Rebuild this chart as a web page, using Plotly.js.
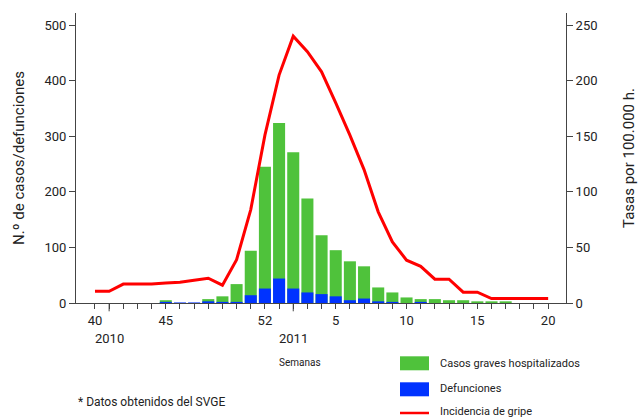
<!DOCTYPE html>
<html>
<head>
<meta charset="utf-8">
<script src="https://cdn.plot.ly/plotly-3.0.1.min.js"></script>
<style>html,body{margin:0;padding:0;background:#fff;}#chart{width:644px;height:419px;}</style>
</head>
<body>
<div id="chart"></div>
<script>
// Week numbers (2010 week 40 through 2011 week 20)
var weeks = [40,41,42,43,44,45,46,47,48,49,50,51,52,1,2,3,4,5,6,7,8,9,10,11,12,13,14,15,16,17,18,19,20];
var labeledWeeks = [40,45,52,5,10,15,20];
// Casos graves hospitalizados (left axis)
var casosGraves = [0,0,0,0,0,5,0,0,7,12,34,94,245,324,271,188,122,95,75,66,28,19,10,7,7,5,5,3,3,3,0,0,0];
// Defunciones (left axis)
var defunciones = [0,0,0,0,0,2,1,1,3,2,2,14,26,44,26,19,16,12,5,8,3,2,0,2,0,0,0,0,0,0,0,0,0];
// Incidencia de gripe, tasas por 100.000 h. (right axis)
var incidencia = [10.5,10.5,17,17,17,18,18.7,20.5,22.3,16,39,84,151,205,240,226,208,180,151,120,82,55,38.5,33,21.4,21.4,9.7,9.7,4,4,4,4,4];

var idx = weeks.map(function(w,i){return i;});
var tickText = weeks.map(function(w){return labeledWeeks.indexOf(w) >= 0 ? String(w) : '';});

var FONT = 'Roboto, Liberation Sans, sans-serif';
var GREEN = '#4fc23b', BLUE = '#0033ff', RED = '#ff0000', AX = '#444444';

var traces = [
  {type:'bar', name:'Casos graves hospitalizados', x: idx, y: casosGraves, marker:{color:GREEN}, width:0.85, showlegend:false, hoverinfo:'y'},
  {type:'bar', name:'Defunciones', x: idx, y: defunciones, marker:{color:BLUE}, width:0.85, showlegend:false, hoverinfo:'y'},
  {type:'scatter', mode:'lines', name:'Incidencia de gripe', x: idx, y: incidencia, yaxis:'y2', line:{color:RED, width:3}, showlegend:false, hoverinfo:'y'}
];

function px2x(p){return (p-76)/490;}
function py2y(p){return (302.7-p)/290;}

function ann(text, xref, x, y, size, xanchor){
  return {text:text, xref:xref, yref:'paper', x:x, y:y, xanchor:xanchor||'center', yanchor:'middle',
          showarrow:false, font:{size:size, family:FONT, color:'#222'}};
}

var layout = {
  width:644, height:419,
  margin:{l:76, r:78, t:13, b:116},
  paper_bgcolor:'#fff', plot_bgcolor:'#fff',
  barmode:'overlay',
  font:{family:FONT, size:13, color:'#222'},
  xaxis:{
    range:[-1.34, 33.26], tickmode:'array', tickvals: idx, ticktext: tickText,
    ticks:'outside', ticklen:5, tickcolor:AX, showline:true, linecolor:AX, linewidth:1,
    showgrid:false, zeroline:false, tickfont:{size:13, family:FONT}, fixedrange:true
  },
  yaxis:{
    range:[0, 521.7], tickvals:[0,100,200,300,400,500], ticks:'outside', ticklen:6, tickcolor:AX,
    showline:true, linecolor:AX, linewidth:1, showgrid:false, zeroline:false,
    tickfont:{size:13, family:FONT},
    title:{text:'N.º de casos/defunciones', font:{size:15, family:FONT}, standoff:16}
  },
  yaxis2:{
    range:[0, 260.85], tickvals:[0,50,100,150,200,250], overlaying:'y', side:'right',
    ticks:'outside', ticklen:6, tickcolor:AX, showline:true, linecolor:AX, linewidth:1,
    showgrid:false, zeroline:false, tickfont:{size:13, family:FONT},
    title:{text:'Tasas por 100.000 h.', font:{size:15, family:FONT}, standoff:26}
  },
  shapes:[
    {type:'line', xref:'x', yref:'paper', x0:1, x1:1, y0:0, y1:py2y(311), line:{color:AX, width:1}},
    {type:'line', xref:'x', yref:'paper', x0:14, x1:14, y0:0, y1:py2y(311), line:{color:AX, width:1}},
    {type:'rect', xref:'paper', yref:'paper', x0:px2x(400), x1:px2x(429), y0:py2y(356), y1:py2y(370), fillcolor:GREEN, line:{width:0}},
    {type:'rect', xref:'paper', yref:'paper', x0:px2x(400), x1:px2x(429), y0:py2y(382), y1:py2y(396), fillcolor:BLUE, line:{width:0}},
    {type:'line', xref:'paper', yref:'paper', x0:px2x(400), x1:px2x(429), y0:py2y(412.7), y1:py2y(412.7), line:{color:RED, width:2.5}}
  ],
  annotations:[
    ann('2010', 'x', 1, py2y(338), 13),
    ann('2011', 'x', 14, py2y(338), 13),
    ann('Semanas', 'x', 14.5, py2y(362), 10),
    ann('Casos graves hospitalizados', 'paper', px2x(438), py2y(363), 11, 'left'),
    ann('Defunciones', 'paper', px2x(438), py2y(388.5), 11, 'left'),
    ann('Incidencia de gripe', 'paper', px2x(438), py2y(411), 11, 'left'),
    ann('* Datos obtenidos del SVGE', 'paper', px2x(76), py2y(402), 12, 'left')
  ]
};

Plotly.newPlot('chart', traces, layout, {displayModeBar:false, staticPlot:true});
</script>
</body>
</html>
